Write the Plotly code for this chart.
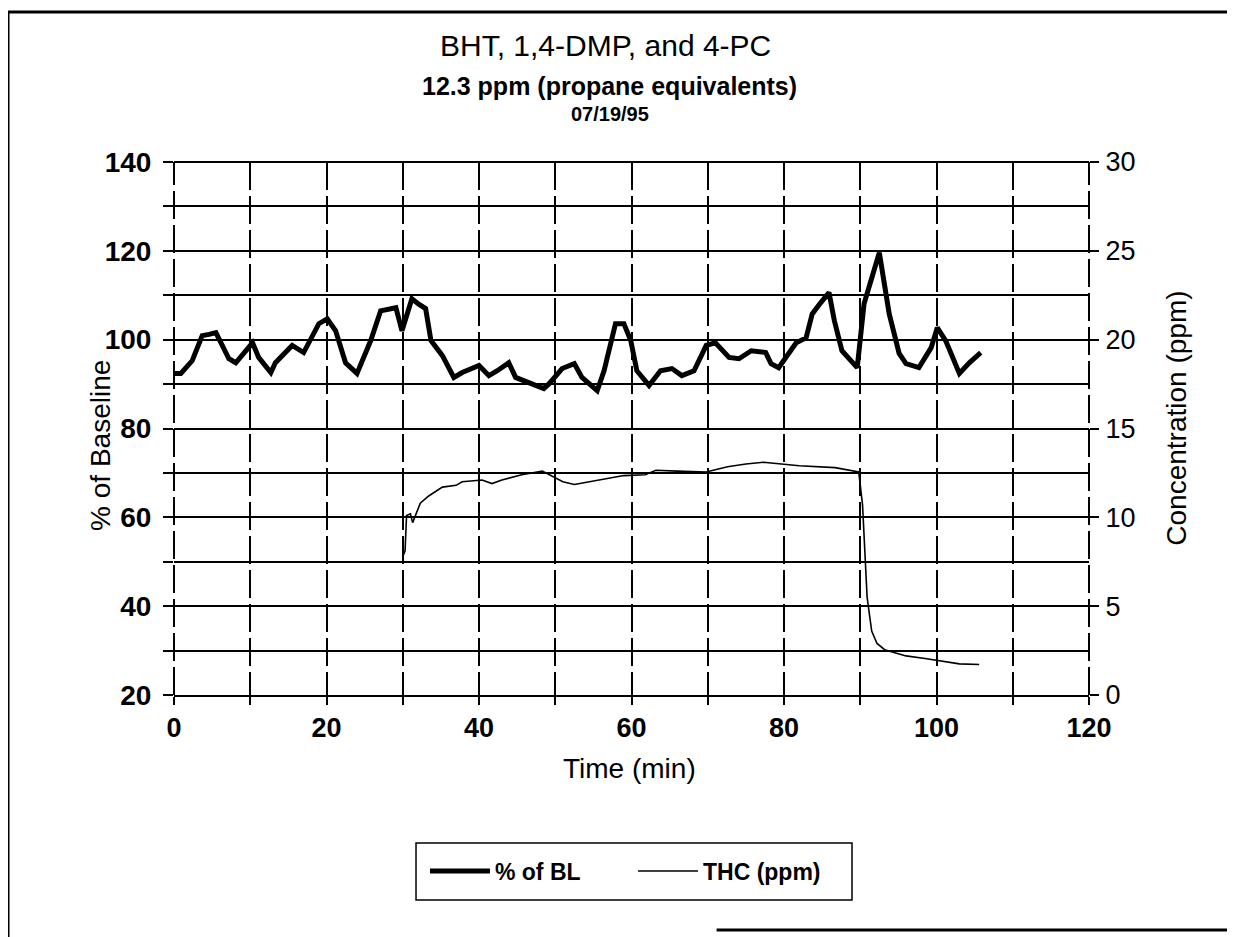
import plotly.graph_objects as go

# % of baseline (thick line), left axis
bl_time = [0, 0.9, 2.4, 3.7, 4.6, 5.5, 7.2, 8.1, 10.3, 11.1, 12.7, 13.3, 15.5, 17.0, 19.0, 20.1,
           21.2, 22.5, 24.0, 25.8, 27.1, 28.2, 29.1, 29.9, 31.2, 32.1, 33.0, 33.7, 35.2, 36.7, 37.8,
           40.0, 41.3, 42.4, 43.9, 44.8, 47.0, 48.5, 49.2, 50.9, 52.5, 53.5, 55.5, 56.4,
           57.9, 59.0, 59.9, 60.7, 62.3, 63.8, 65.3, 66.6, 68.2, 69.8, 71.0, 72.8, 74.1,
           75.7, 77.6, 78.3, 79.3, 81.6, 82.9, 83.7, 84.8, 85.9, 86.6, 87.6, 89.6, 90.1,
           90.5, 92.5, 92.9, 93.8, 95.1, 96.0, 97.7, 99.3, 100.1, 101.2, 103.0, 104.3, 105.8]
bl_pct = [92.4, 92.4, 95.3, 100.9, 101.2, 101.6, 95.7, 94.8, 99.3, 96.0, 92.6, 94.8, 98.7, 97.1, 103.6, 104.7,
          102.0, 94.8, 92.4, 99.8, 106.5, 106.8, 107.2, 102.0, 109.2, 108.0, 107.0, 99.8, 96.4, 91.5, 92.6,
          94.2, 91.9, 93.0, 94.8, 91.5, 90.1, 89.0, 90.1, 93.5, 94.6, 91.5, 88.5, 93.0,
          103.6, 103.6, 99.8, 93.0, 89.7, 93.0, 93.5, 91.9, 93.0, 98.7, 99.3, 96.0, 95.7,
          97.5, 97.1, 94.6, 93.7, 99.3, 100.4, 105.8, 108.3, 110.6, 104.3, 97.5, 93.7, 102.0,
          108.1, 119.6, 114.8, 105.8, 96.9, 94.6, 93.7, 98.2, 102.7, 99.8, 92.4, 94.8, 97.1]

# THC concentration (thin line), right axis
thc_time = [30.1, 30.3, 30.5, 31.0, 31.3, 31.8, 32.3, 33.4, 35.2, 37.0, 37.8, 40.4, 41.7, 43.0,
            45.6, 48.3, 49.2, 51.0, 52.5, 56.2, 59.0, 61.8, 63.2, 66.0, 69.8, 72.6, 75.0,
            77.3, 79.6, 82.0, 86.7, 89.8, 90.3, 90.9, 91.5, 92.2, 93.2, 96.0, 98.5, 100.7,
            103.0, 105.6]
thc_ppm = [7.9, 8.1, 10.1, 10.2, 9.7, 10.2, 10.8, 11.2, 11.7, 11.8, 12.0, 12.1, 11.9, 12.1,
           12.4, 12.6, 12.4, 12.0, 11.85, 12.15, 12.35, 12.4, 12.65, 12.6, 12.55, 12.85, 13.0,
           13.1, 13.0, 12.9, 12.8, 12.55, 10.7, 5.5, 3.6, 2.9, 2.55, 2.2, 2.05, 1.9,
           1.75, 1.72]

x_ticks = list(range(0, 121, 10))
left_ticks = list(range(20, 141, 10))
right_ticks = list(range(0, 31, 5))

FONT = "Liberation Sans, Arial, sans-serif"

fig = go.Figure()
fig.add_trace(go.Scatter(x=bl_time, y=bl_pct, mode="lines", name="% of BL",
                         line=dict(color="black", width=5)))
fig.add_trace(go.Scatter(x=thc_time, y=thc_ppm, mode="lines", name="THC (ppm)", yaxis="y2",
                         line=dict(color="black", width=1.6)))

fig.update_layout(
    width=1235, height=937,
    margin=dict(l=166, r=154, t=154, b=250),
    paper_bgcolor="white", plot_bgcolor="white",
    font=dict(family=FONT, color="black"),
    showlegend=True,
    legend=dict(orientation="h", x=0.2743, xanchor="left", y=-0.3302, yanchor="middle",
                borderwidth=0, bgcolor="rgba(0,0,0,0)", itemwidth=60,
                font=dict(size=23, weight="bold"), entrywidth=133),
    xaxis=dict(range=[0, 120], tickvals=x_ticks,
               ticktext=[str(v) if v % 20 == 0 else "" for v in x_ticks],
               showgrid=True, gridcolor="black", gridwidth=2, griddash="28px,6px",
               showline=True, linecolor="black", linewidth=2,
               ticks="outside", ticklen=8, tickwidth=2, tickcolor="black",
               tickfont=dict(size=27, weight="bold"), zeroline=False),
    yaxis=dict(range=[20, 140], tickvals=left_ticks,
               ticktext=[str(v) if v % 20 == 0 else "" for v in left_ticks],
               showgrid=True, gridcolor="black", gridwidth=2,
               showline=False, ticks="outside", ticklen=10, tickwidth=2, tickcolor="black",
               tickfont=dict(size=28, weight="bold"), ticklabelstandoff=6, zeroline=False),
    yaxis2=dict(range=[0, 30], tickvals=right_ticks, overlaying="y", side="right",
                showgrid=False, showline=False, ticks="outside", ticklen=9, tickwidth=2,
                tickcolor="black", tickfont=dict(size=27), ticklabelstandoff=1, zeroline=False),
)

annotations = [
    dict(text="BHT, 1,4-DMP, and 4-PC", x=0.472, y=1.2195, font=dict(size=30)),
    dict(text="<b>12.3 ppm (propane equivalents)</b>", x=0.4765, y=1.1426, font=dict(size=25)),
    dict(text="<b>07/19/95</b>", x=0.4765, y=1.090, font=dict(size=20)),
    dict(text="% of Baseline", x=-0.081, y=0.469, textangle=-90, font=dict(size=28)),
    dict(text="Concentration (ppm)", x=1.096, y=0.52, textangle=-90, font=dict(size=28)),
    dict(text="Time (min)", x=0.498, y=-0.137, font=dict(size=28)),
]
for a in annotations:
    fig.add_annotation(xref="paper", yref="paper", xanchor="center", yanchor="middle",
                       showarrow=False, **a)

# plot-area edges that the grid does not draw
edge = dict(color="black", width=2)
fig.add_shape(type="line", xref="paper", yref="paper", x0=0, x1=0, y0=0, y1=1,
              line=dict(color="black", width=2, dash="28px,6px"))
fig.add_shape(type="line", xref="paper", yref="paper", x0=1, x1=1, y0=0, y1=1,
              line=dict(color="black", width=2, dash="28px,6px"))
fig.add_shape(type="line", xref="paper", yref="paper", x0=0, x1=1, y0=1, y1=1, line=edge)

# legend box
fig.add_shape(type="rect", xref="paper", yref="paper", x0=0.2645, x1=0.741, y0=-0.3846, y1=-0.2777,
              line=dict(color="black", width=1.5), fillcolor="rgba(0,0,0,0)")

# scanned page frame
frame = dict(color="black", width=3)
fig.add_shape(type="line", xref="paper", yref="paper", x0=-0.1814, x1=-0.1814, y0=1.2814, y1=-0.47, line=frame)
fig.add_shape(type="line", xref="paper", yref="paper", x0=-0.1814, x1=1.17, y0=1.2814, y1=1.2814, line=frame)
fig.add_shape(type="line", xref="paper", yref="paper", x0=0.593, x1=1.17, y0=-0.441, y1=-0.441, line=frame)

fig.write_html("out.html")
